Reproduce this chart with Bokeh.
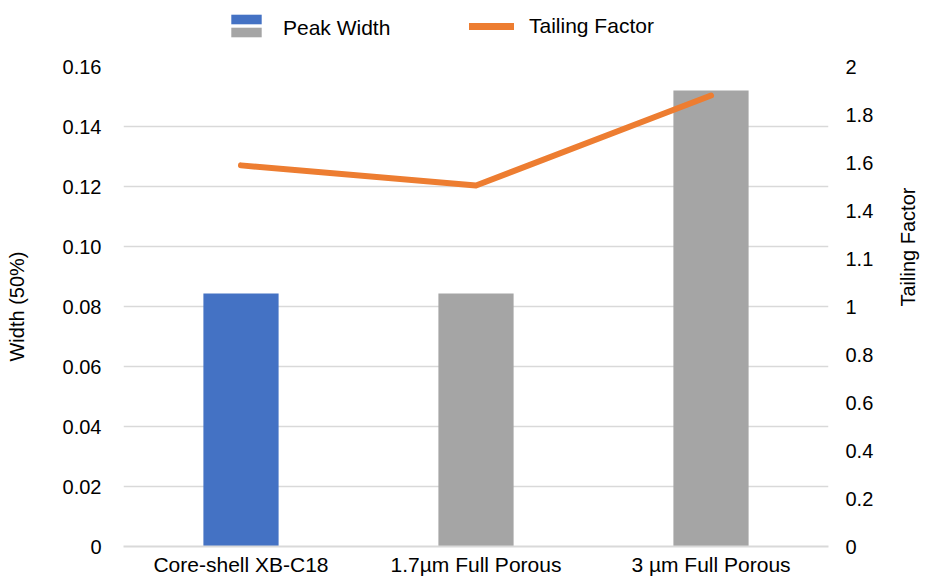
import math
from bokeh.plotting import figure
from bokeh.layouts import column
from bokeh.models import (ColumnDataSource, FactorRange, Range1d, LinearAxis, FixedTicker,
                          Legend, LegendItem)
from bokeh.embed import file_html
from bokeh.resources import INLINE

# ---- data ----
categories = ["Core-shell XB-C18", "1.7\u00b5m Full Porous", "3 \u00b5m Full Porous"]
peak_width = [0.0843, 0.0843, 0.152]
tailing_factor = [1.588, 1.504, 1.879]
bar_colors = ["#4472C4", "#A5A5A5", "#A5A5A5"]
left_ticks = [0, 0.02, 0.04, 0.06, 0.08, 0.10, 0.12, 0.14, 0.16]
left_tick_labels = ["0", "0.02", "0.04", "0.06", "0.08", "0.10", "0.12", "0.14", "0.16"]
right_ticks = [0, 0.2, 0.4, 0.6, 0.8, 1.0, 1.2, 1.4, 1.6, 1.8, 2.0]
right_tick_labels = ["0", "0.2", "0.4", "0.6", "0.8", "1", "1.1", "1.4", "1.6", "1.8", "2"]
left_max, right_max = 0.16, 2.0
series_names = ["Peak Width", "Tailing Factor"]

FONT = "Liberation Sans"
FS = "20px"
FS_BIG = "21px"
GRID = "#D9D9D9"
BAR_GRAY = "#A5A5A5"
LINE_COLOR = "#ED7D31"

src = ColumnDataSource(dict(cat=categories, w=peak_width, tf=tailing_factor, color=bar_colors))

# ---------------- main chart ----------------
p = figure(frame_width=705, frame_height=480,
           x_range=FactorRange(*categories, range_padding=0),
           y_range=Range1d(0, left_max), output_backend="svg", toolbar_location=None,
           min_border_left=123, min_border_right=92, min_border_top=16, min_border_bottom=29)
p.outline_line_color = None
p.extra_y_ranges = {"tf": Range1d(0, right_max)}

bars = p.vbar(x="cat", top="w", width=0.32, source=src, fill_color="color", line_color=None)
line = p.line(x="cat", y="tf", source=src, line_color=LINE_COLOR, line_width=6,
              line_cap="round", line_join="round", y_range_name="tf")

p.xaxis.axis_line_color = GRID
p.xaxis.axis_line_width = 2
p.xaxis.major_tick_line_color = None
p.xaxis.minor_tick_line_color = None
p.xaxis.major_tick_out = 0
p.xaxis.major_tick_in = 0
p.xaxis.major_label_standoff = 6
p.xaxis.major_label_text_font = FONT
p.xaxis.major_label_text_font_size = FS_BIG
p.xaxis.major_label_text_color = "#000000"

ly = p.yaxis[0]
ly.ticker = FixedTicker(ticks=left_ticks)
ly.major_label_overrides = dict(zip(left_ticks, left_tick_labels))
ly.axis_line_color = None
ly.major_tick_line_color = None
ly.minor_tick_line_color = None
ly.major_tick_out = 0
ly.major_tick_in = 0
ly.major_label_standoff = 22
ly.major_label_text_font = FONT
ly.major_label_text_font_size = FS
ly.major_label_text_color = "#000000"
ly.axis_label = "Width (50%)"
ly.axis_label_standoff = 32
ly.axis_label_text_font = FONT
ly.axis_label_text_font_size = FS
ly.axis_label_text_font_style = "normal"
ly.axis_label_text_color = "#000000"

ry = LinearAxis(y_range_name="tf", ticker=FixedTicker(ticks=right_ticks))
ry.major_label_overrides = dict(zip(right_ticks, right_tick_labels))
ry.axis_line_color = None
ry.major_tick_line_color = None
ry.minor_tick_line_color = None
ry.major_tick_out = 0
ry.major_tick_in = 0
ry.major_label_standoff = 17
ry.major_label_text_font = FONT
ry.major_label_text_font_size = FS
ry.major_label_text_color = "#000000"
ry.axis_label = "Tailing Factor"
ry.axis_label_standoff = 32
ry.axis_label_orientation = math.pi / 2
ry.axis_label_text_align = "center"
ry.axis_label_text_font = FONT
ry.axis_label_text_font_size = FS
ry.axis_label_text_font_style = "normal"
ry.axis_label_text_color = "#000000"
p.add_layout(ry, "right")

p.xgrid.grid_line_color = None
p.ygrid.ticker = FixedTicker(ticks=left_ticks)
p.ygrid.grid_line_color = GRID
p.ygrid.grid_line_width = 1.5

# ---------------- legend strip (keys only, no data drawn) ----------------
lg_fig = figure(width=920, height=50, output_backend="svg", toolbar_location=None,
                x_axis_type=None, y_axis_type=None, min_border=0,
                x_range=Range1d(0, 1), y_range=Range1d(0, 1))
lg_fig.outline_line_color = None
lg_fig.xgrid.visible = False
lg_fig.ygrid.visible = False


def key_source():
    return ColumnDataSource(dict(x=[float("nan")], top=[float("nan")]))


k_blue = lg_fig.vbar(x="x", top="top", width=0.1, source=key_source(),
                     fill_color=bar_colors[0], line_color=None)
k_gray = lg_fig.vbar(x="x", top="top", width=0.1, source=key_source(),
                     fill_color=BAR_GRAY, line_color=None)
k_line = lg_fig.line(x="x", y="top", source=key_source(),
                     line_color=LINE_COLOR, line_width=7, line_cap="round")


def mk_legend(items, loc, font_size=FS_BIG, **kw):
    lg = Legend(items=items, location=loc, padding=0, margin=0, border_line_color=None,
                background_fill_alpha=0, label_text_font=FONT, label_text_font_size=font_size,
                label_text_color="#000000", **kw)
    lg_fig.add_layout(lg)
    return lg

# split swatch (blue over gray)
mk_legend([LegendItem(label="", renderers=[k_blue]),
           LegendItem(label="", renderers=[k_gray])],
          (104, 12), font_size="1px", orientation="vertical", glyph_width=38, glyph_height=12,
          label_height=12, spacing=1, label_standoff=0)
# series label for the bars
mk_legend([LegendItem(label=series_names[0], renderers=[k_gray])],
          (160, 10), glyph_width=0, glyph_height=24, label_height=24, label_standoff=0)
# line series
mk_legend([LegendItem(label=series_names[1], renderers=[k_line])],
          (346, 12), glyph_width=45, glyph_height=24, label_height=24, label_standoff=15)

layout = column(lg_fig, p, spacing=0)
open("out.html", "w").write(file_html(layout, INLINE))
